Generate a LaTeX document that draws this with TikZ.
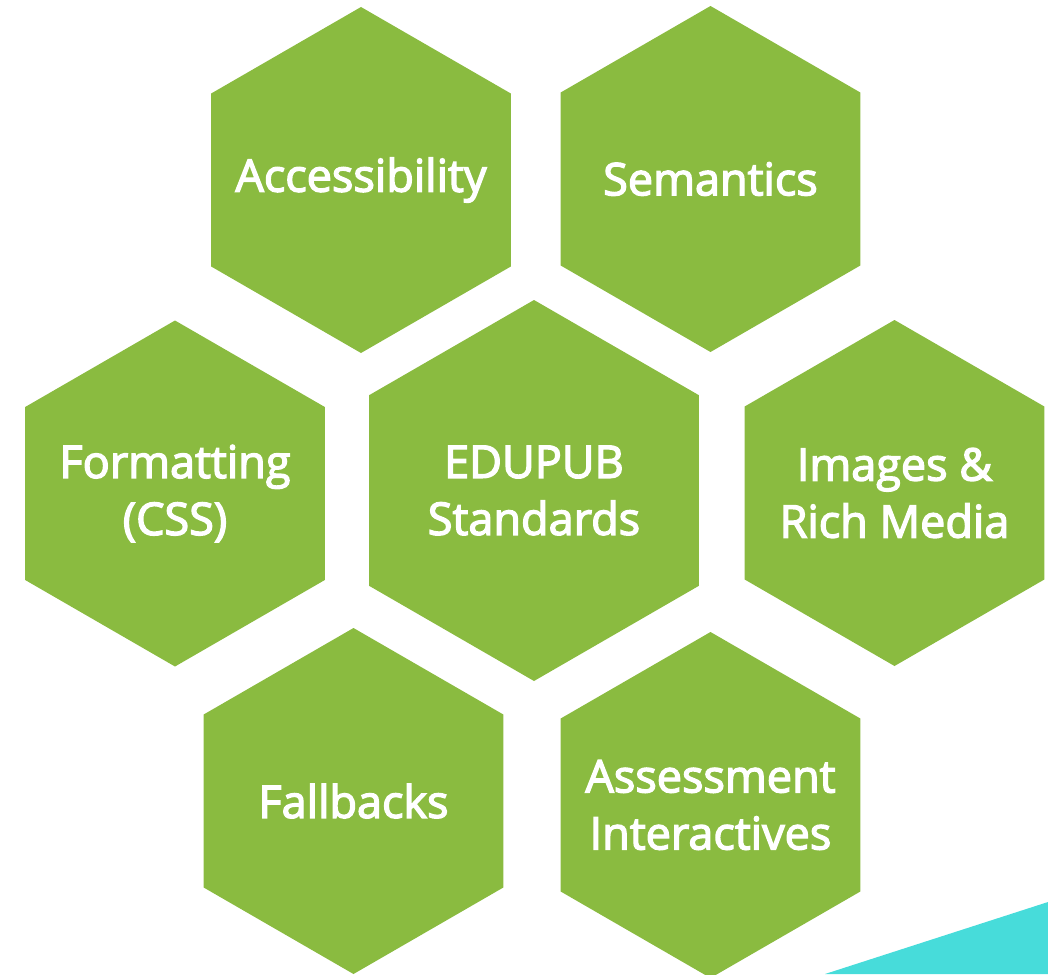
\documentclass[tikz,border=0pt]{standalone}
\usepackage{fontspec}
\newfontfamily\hexfont{Open Sans}[FakeBold=3]
\usetikzlibrary{shapes.geometric}
\definecolor{hexgreen}{HTML}{8ABB40}
\definecolor{cornercyan}{HTML}{47DCDA}
\begin{document}
\begin{tikzpicture}[x=1pt,y=-1pt,
    hexa/.style={regular polygon, regular polygon sides=6, shape border rotate=30,
      fill=hexgreen, inner sep=0pt, minimum size=346pt},
    bighexa/.style={hexa, minimum size=381pt},
    hextext/.style={text=white, align=center, inner sep=0pt,
      font=\hexfont\fontsize{45}{57}\selectfont}]
  \useasboundingbox (0,0) rectangle (1048,974);

  % corner accent
  \fill[cornercyan] (825,974) -- (1048,902) -- (1048,974) -- cycle;

  \node[hexa] (access) at (361,180) {};
  \node[hexa] (seman) at (710.5,179) {};
  \node[hexa] (format) at (175,493.5) {};
  \node[bighexa] (edupub) at (534,490.5) {};
  \node[hexa] (images) at (894.5,493) {};
  \node[hexa] (fallb) at (353.5,801) {};
  \node[hexa] (assess) at (710.5,805) {};

  \node[hextext] (access-t) at (access) {Accessibility};
  \node[hextext] (seman-t) at (seman) {Semantics};
  \node[hextext] (format-t) at (format) {Formatting\\(CSS)};
  \node[hextext] (edupub-t) at (edupub) {EDUPUB\\Standards};
  \node[hextext] (images-t) at (images) {Images \&\\Rich Media};
  \node[hextext] (fallb-t) at (fallb) {Fallbacks};
  \node[hextext] (assess-t) at (assess) {Assessment\\Interactives};
\end{tikzpicture}
\end{document}
